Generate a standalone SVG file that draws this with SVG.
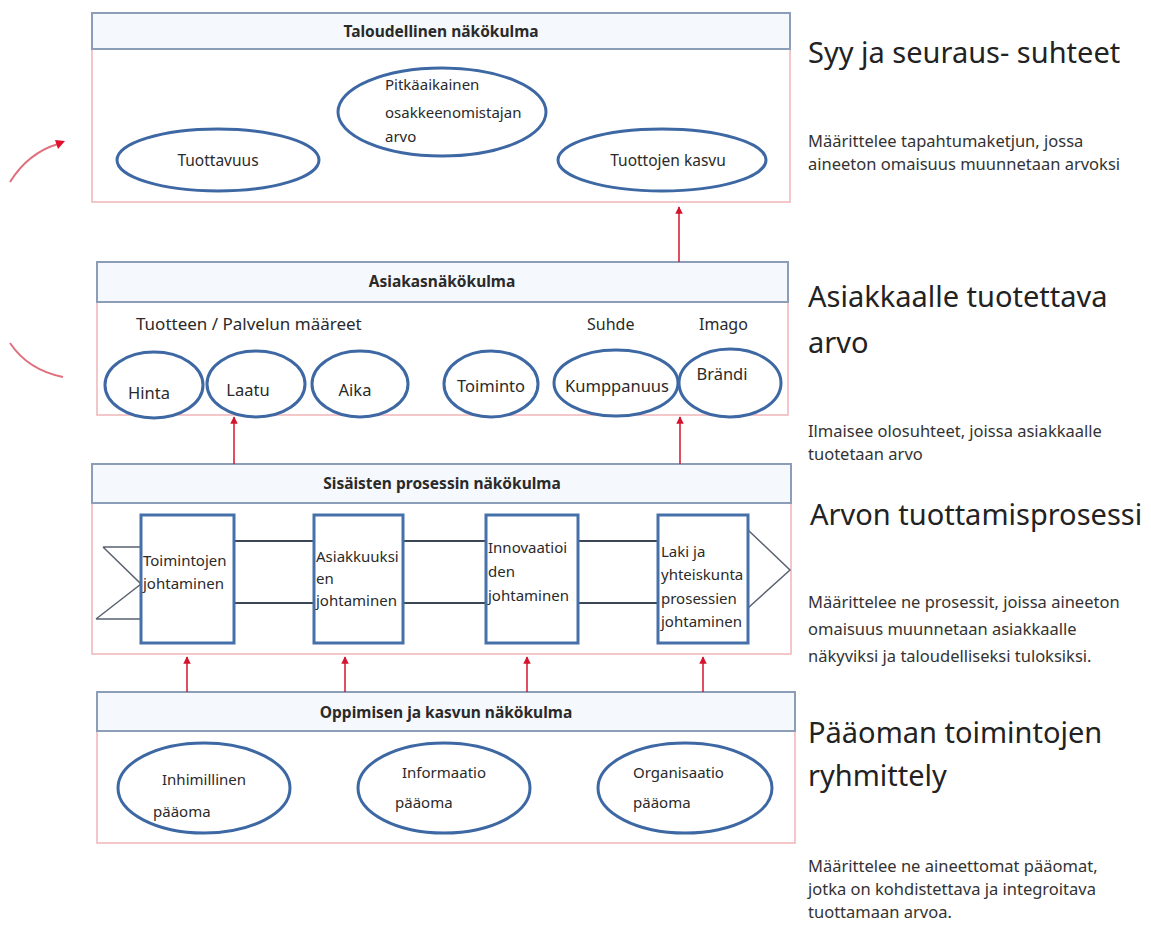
<svg xmlns="http://www.w3.org/2000/svg" width="1151" height="926" viewBox="0 0 1151 926">
<defs>
<style>
.hdr{fill:#f5f8fc;stroke:#8c9db8;stroke-width:2}
.body{fill:#ffffff;stroke:#f0b4b8;stroke-width:1.5}
.ell{fill:#ffffff;stroke:#3d68a3;stroke-width:3}
.pbox{fill:#ffffff;stroke:#4670aa;stroke-width:3}
.pline{fill:none;stroke:#3b4656;stroke-width:2}
.chev{fill:none;stroke:#5a6270;stroke-width:1.5}
.arr{fill:none;stroke:#d4142e;stroke-width:1.5;marker-end:url(#ah)}
.curve{fill:none;stroke:#e0707e;stroke-width:2}
text{font-family:"Noto Sans","Open Sans","Liberation Sans",sans-serif;fill:#2a2a2a}
.ht{font-size:15.5px;font-weight:bold;text-anchor:middle}
.et{font-size:15px}
.ec{font-size:15.5px;text-anchor:middle}
.ea{font-size:16.5px;text-anchor:middle}
.lbl{font-size:17px}
.lb2{font-size:16px}
.big{font-size:29px;fill:#222}
.sm{font-size:16.5px;fill:#333}
</style>
<marker id="ah" viewBox="0 0 10 10" refX="9" refY="5" markerWidth="5" markerHeight="5" orient="auto" markerUnits="strokeWidth">
<path d="M0,0 L10,5 L0,10 z" fill="#d4142e"/>
</marker>
</defs>
<rect width="1151" height="926" fill="#ffffff"/>

<g id="taloudellinen">
<rect class="body" x="92" y="49" width="698" height="153"/>
<rect class="hdr" x="92" y="13" width="698" height="36"/>
<text class="ht" x="441" y="37">Taloudellinen näkökulma</text>
<ellipse class="ell" cx="218" cy="160" rx="101" ry="31"/>
<text class="ec" x="218" y="166">Tuottavuus</text>
<ellipse class="ell" cx="442" cy="112" rx="104" ry="44"/>
<text class="et" x="385" y="90">Pitkäaikainen</text>
<text class="et" x="385" y="118">osakkeenomistajan</text>
<text class="et" x="385" y="142">arvo</text>
<ellipse class="ell" cx="662" cy="160" rx="104" ry="31"/>
<text class="ec" x="668" y="166">Tuottojen kasvu</text>
</g>

<g id="asiakas">
<rect class="body" x="97" y="302" width="691" height="113"/>
<rect class="hdr" x="97" y="262" width="691" height="40"/>
<text class="ht" x="442" y="287">Asiakasnäkökulma</text>
<text class="lbl" x="136" y="330">Tuotteen / Palvelun määreet</text>
<text class="lb2" x="587" y="330">Suhde</text>
<text class="lb2" x="699" y="330">Imago</text>
<ellipse class="ell" cx="154" cy="385" rx="49" ry="33"/>
<text class="ea" x="149" y="399">Hinta</text>
<ellipse class="ell" cx="256" cy="384" rx="49" ry="33"/>
<text class="ea" x="248" y="396">Laatu</text>
<ellipse class="ell" cx="360" cy="384" rx="48" ry="33"/>
<text class="ea" x="355" y="396">Aika</text>
<ellipse class="ell" cx="491" cy="384" rx="47" ry="33"/>
<text class="ea" x="491" y="392">Toiminto</text>
<ellipse class="ell" cx="616" cy="383" rx="62" ry="33"/>
<text class="ea" x="617" y="392">Kumppanuus</text>
<ellipse class="ell" cx="730" cy="383" rx="51" ry="34"/>
<text class="ea" x="722" y="380">Brändi</text>
</g>

<g id="sisaiset">
<rect class="body" x="92" y="503" width="699" height="151"/>
<rect class="hdr" x="92" y="464" width="699" height="39"/>
<text class="ht" x="442" y="489">Sisäisten prosessin näkökulma</text>
<path class="chev" d="M103,547 H141 M103,547 L141,584 L96,619 M96,619 H141"/>
<path class="chev" d="M748,530 L790,570 L748,608"/>
<path class="pline" d="M234,541 H314 M234,603 H314 M403,541 H486 M403,603 H486 M578,541 H658 M578,603 H658"/>
<g id="p1"><rect class="pbox" x="141" y="515" width="93" height="128"/>
<text class="et" x="143" y="566">Toimintojen</text>
<text class="et" x="143" y="589">johtaminen</text></g>
<g id="p2"><rect class="pbox" x="314" y="515" width="89" height="128"/>
<text class="et" x="316" y="562">Asiakkuuksi</text>
<text class="et" x="316" y="584">en</text>
<text class="et" x="316" y="606">johtaminen</text></g>
<g id="p3"><rect class="pbox" x="486" y="515" width="92" height="128"/>
<text class="et" x="488" y="553">Innovaatioi</text>
<text class="et" x="488" y="577">den</text>
<text class="et" x="488" y="601">johtaminen</text></g>
<g id="p4"><rect class="pbox" x="658" y="515" width="90" height="128"/>
<text class="et" x="661" y="557">Laki ja</text>
<text class="et" x="661" y="580">yhteiskunta</text>
<text class="et" x="661" y="604">prosessien</text>
<text class="et" x="661" y="627">johtaminen</text></g>
</g>

<g id="oppiminen">
<rect class="body" x="97" y="731" width="698" height="112"/>
<rect class="hdr" x="97" y="692" width="698" height="39"/>
<text class="ht" x="446" y="718">Oppimisen  ja kasvun näkökulma</text>
<ellipse class="ell" cx="204" cy="788" rx="86" ry="45"/>
<text class="et" x="162" y="785">Inhimillinen</text>
<text class="et" x="153" y="817">pääoma</text>
<ellipse class="ell" cx="444" cy="788" rx="86" ry="45"/>
<text class="et" x="402" y="778">Informaatio</text>
<text class="et" x="395" y="808">pääoma</text>
<ellipse class="ell" cx="685" cy="788" rx="87" ry="45"/>
<text class="et" x="633" y="778">Organisaatio</text>
<text class="et" x="633" y="808">pääoma</text>
</g>

<g id="connectors">
<path class="arr" d="M679,262 V207"/>
<path class="arr" d="M234,464 V417"/>
<path class="arr" d="M680,464 V417"/>
<path class="arr" d="M187,692 V657"/>
<path class="arr" d="M345,692 V657"/>
<path class="arr" d="M527,692 V657"/>
<path class="arr" d="M703,692 V657"/>
<path class="curve" d="M10,182 Q28,153 58,144"/>
<path d="M65,141 L55,140 L58,149 z" fill="#e0102e"/>
<path class="curve" d="M10,343 Q28,370 63,377"/>
</g>

<g id="descriptions">
<text class="big" x="808" y="63">Syy ja seuraus- suhteet</text>
<text class="sm" x="808" y="147">Määrittelee tapahtumaketjun, jossa</text>
<text class="sm" x="808" y="170">aineeton omaisuus muunnetaan arvoksi</text>
<text class="big" x="808" y="307">Asiakkaalle tuotettava</text>
<text class="big" x="808" y="353">arvo</text>
<text class="sm" x="808" y="437">Ilmaisee olosuhteet, joissa asiakkaalle</text>
<text class="sm" x="808" y="460">tuotetaan arvo</text>
<text class="big" x="810" y="525">Arvon tuottamisprosessi</text>
<text class="sm" x="808" y="608">Määrittelee ne prosessit, joissa aineeton</text>
<text class="sm" x="808" y="635">omaisuus muunnetaan asiakkaalle</text>
<text class="sm" x="808" y="662">näkyviksi ja taloudelliseksi tuloksiksi.</text>
<text class="big" x="808" y="743">Pääoman toimintojen</text>
<text class="big" x="808" y="786">ryhmittely</text>
<text class="sm" x="808" y="872">Määrittelee ne aineettomat pääomat,</text>
<text class="sm" x="808" y="895">jotka on kohdistettava ja integroitava</text>
<text class="sm" x="808" y="918">tuottamaan arvoa.</text>
</g>
</svg>
